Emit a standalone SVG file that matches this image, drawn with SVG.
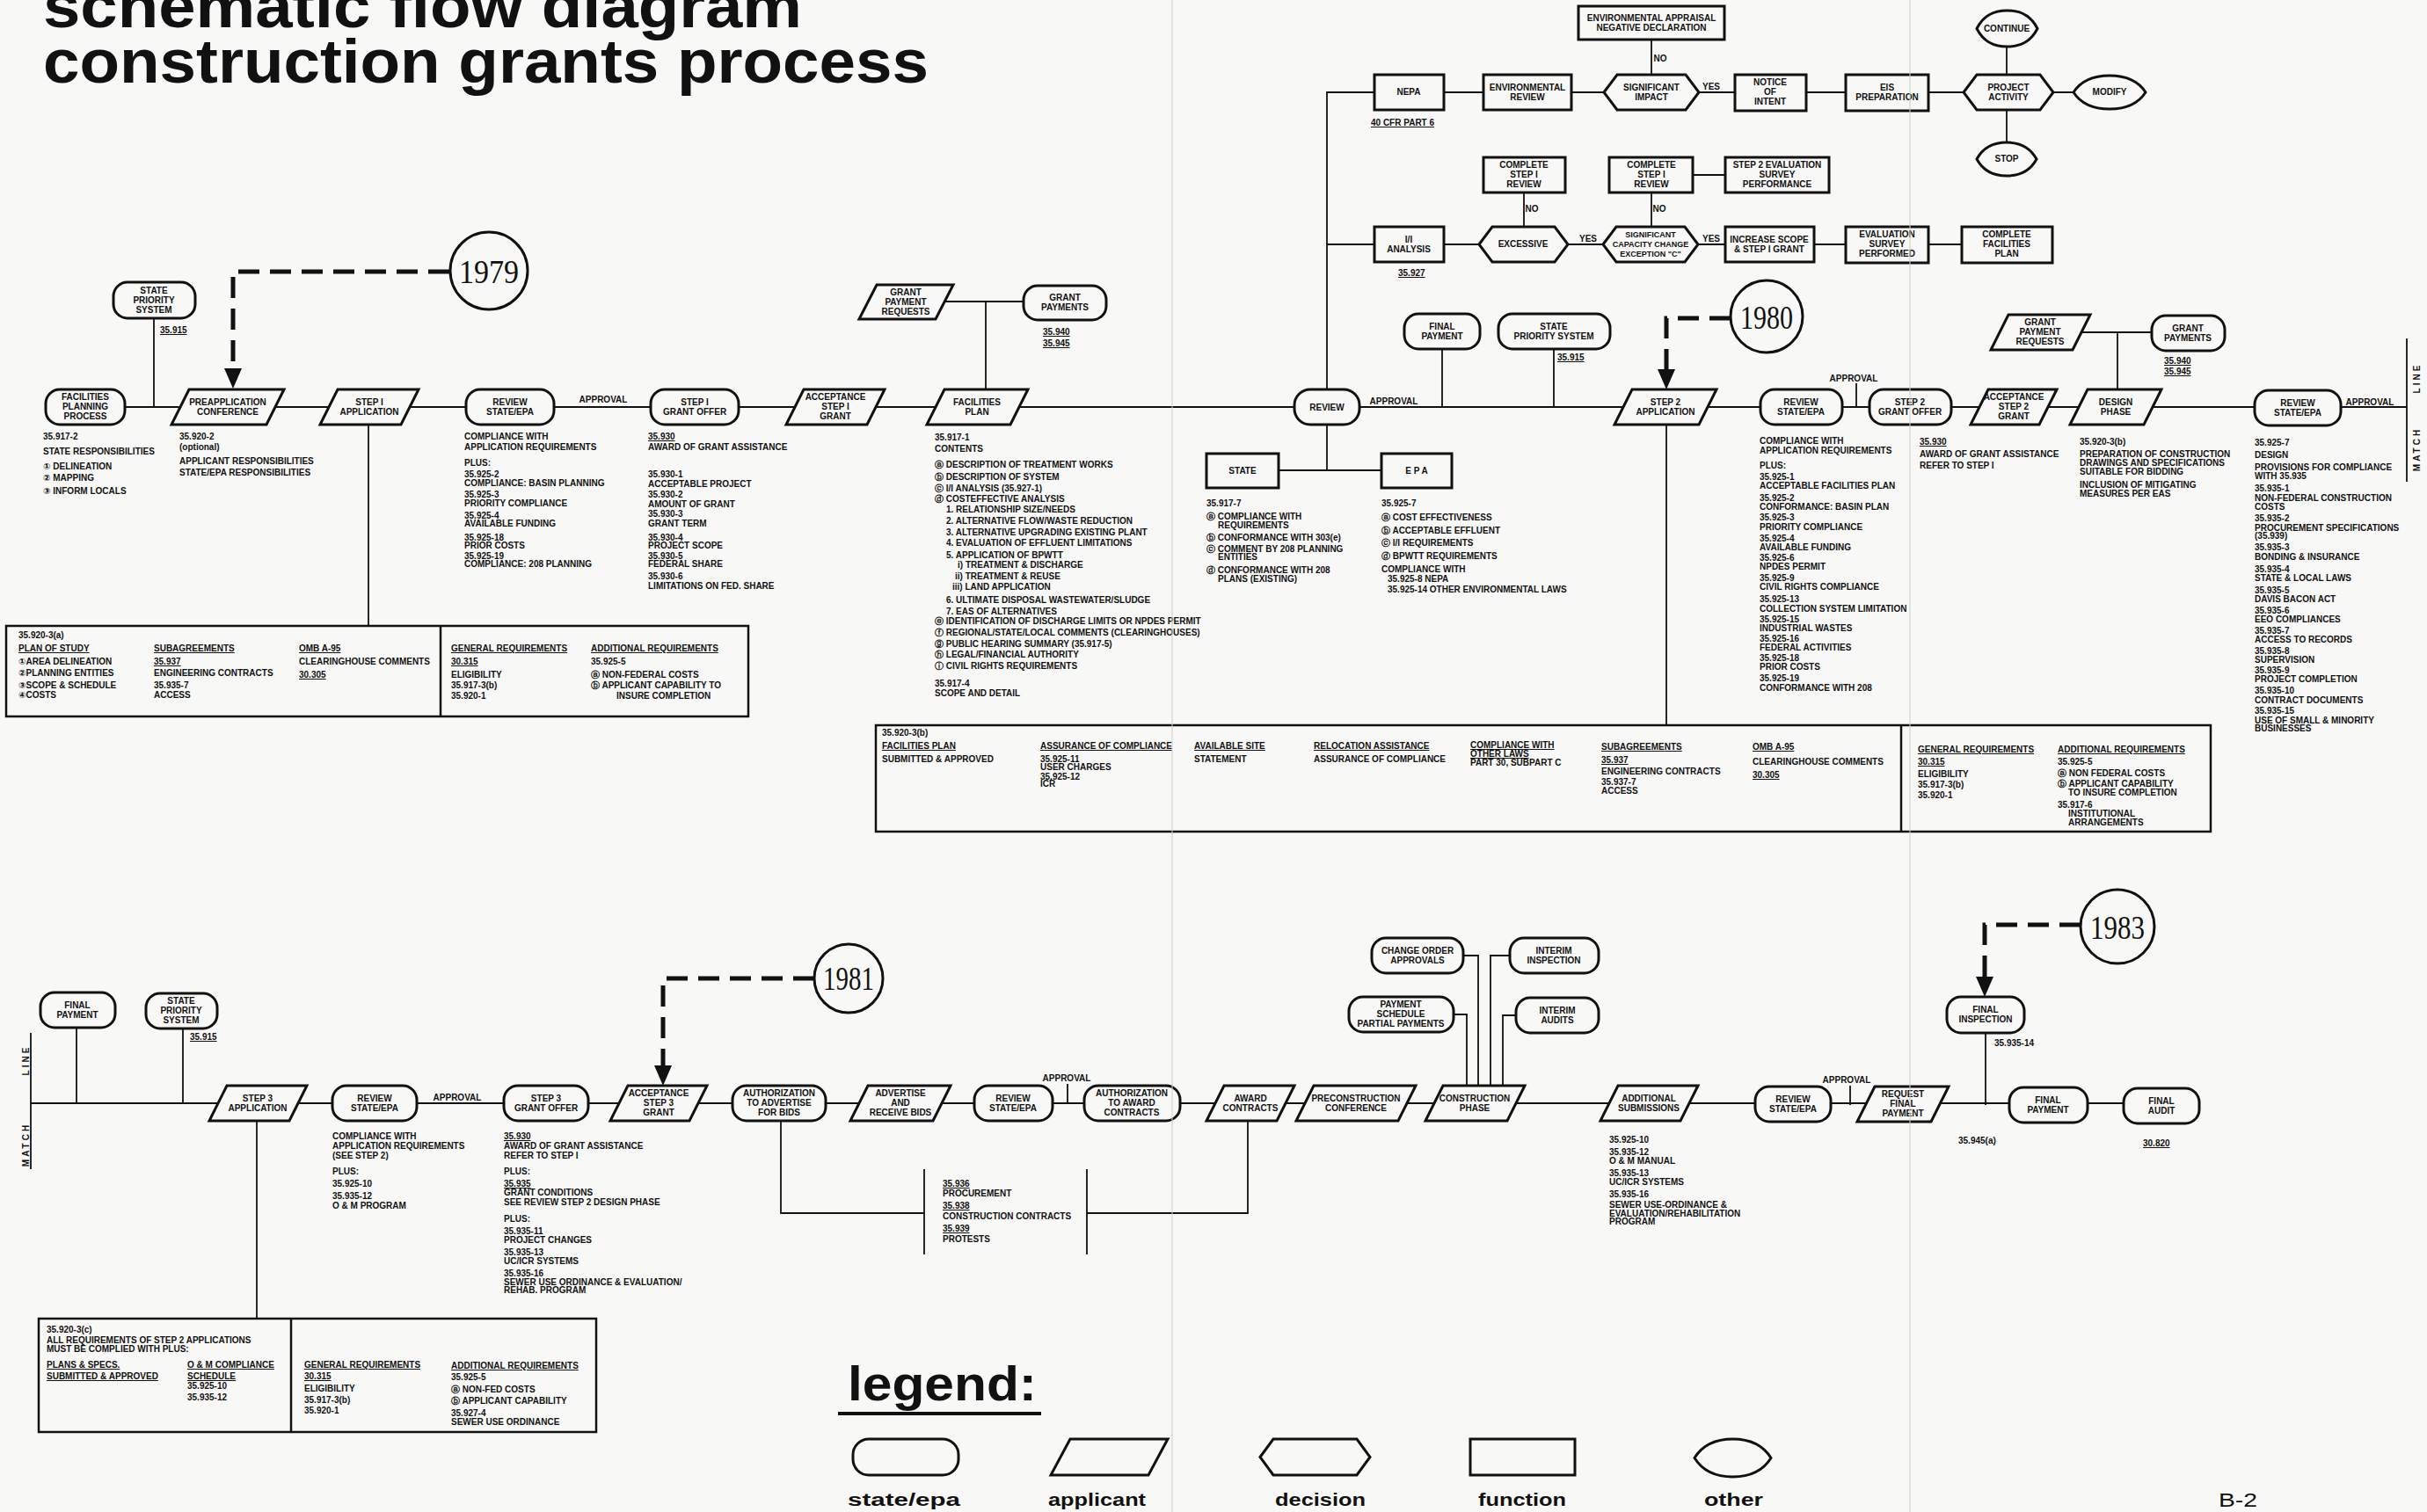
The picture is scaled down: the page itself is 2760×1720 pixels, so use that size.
<svg xmlns="http://www.w3.org/2000/svg" width="2760" height="1720" viewBox="0 0 2760 1720">
<style>
.bg{fill:#f8f8f6}
.n{fill:#f8f8f6;stroke:#111;stroke-width:3}
.c{fill:none;stroke:#111;stroke-width:1.8}
.d{fill:none;stroke:#111;stroke-width:5;stroke-dasharray:24 12}
.t{font-family:"Liberation Sans",Arial,"DejaVu Sans",sans-serif;font-weight:bold;font-size:10px;fill:#111}
.m{text-anchor:middle}
.u{text-decoration:underline}
.yr{font-family:"Liberation Serif","Times New Roman",serif;font-size:38px;fill:#111;text-anchor:middle}
.tab{fill:none;stroke:#111;stroke-width:2.5}
.fold{stroke:#cfcfcb;stroke-width:1.5}
.ttl{font-family:"Liberation Sans",Arial,sans-serif;font-weight:bold;font-size:70px;fill:#111}
.lg{font-family:"Liberation Sans",Arial,sans-serif;font-weight:bold;font-size:20px;fill:#111}
.ml{font-family:"Liberation Sans",Arial,sans-serif;font-weight:bold;font-size:10px;fill:#111;letter-spacing:3px;text-anchor:middle}
</style>
<defs>
<marker id="ah" markerUnits="userSpaceOnUse" markerWidth="24" markerHeight="22" refX="0" refY="11" orient="auto" viewBox="0 0 24 22">
<path d="M0,1 L23,11 L0,21 Z" fill="#111"/>
</marker>
</defs>
<rect class="bg" x="0" y="0" width="2760" height="1720"/>

<g id="title">
<text class="ttl" x="49" y="31" textLength="863" lengthAdjust="spacingAndGlyphs">schematic flow diagram</text>
<text class="ttl" x="49" y="94" textLength="1007" lengthAdjust="spacingAndGlyphs">construction grants process</text>
</g>

<g id="connectors">
<path class="c" d="M97 463 H2737"/>
<path class="c" d="M175 362 V463"/>
<path class="c" d="M419 483 V712"/>
<path class="c" d="M1074 343 H1164 M1121 343 V443"/>
<path class="c" d="M1509 443 V105 H1563 M1509 278 H1563"/>
<path class="c" d="M1509 483 V535 M1454 535 H1571"/>
<path class="c" d="M1640 397 V463 M1767 397 V463"/>
<path class="c" d="M1895 483 V825"/>
<path class="c" d="M2111 436 V463"/>
<path class="c" d="M2367 378 H2447 M2408 378 V443"/>
<path class="c" d="M1642 105 H1687 M1787 105 H1824 M1932 105 H1973 M2054 105 H2099 M2193 105 H2233 M2335 105 H2358"/>
<path class="c" d="M1878 45 V85 M2282 53 V85 M2282 125 V162"/>
<path class="c" d="M1642 278 H1682 M1783 278 H1823 M1931 278 H1962 M2063 278 H2099 M2193 278 H2231"/>
<path class="c" d="M1733 219 V258 M1878 219 V258 M1925 199 H1962"/>
<path class="c" d="M2737 385 V548"/>
<path class="c" d="M35 1175 V1330"/>
<path class="c" d="M35 1255 H2458"/>
<path class="c" d="M87 1169 V1255 M208 1170 V1255"/>
<path class="c" d="M292 1275 V1500"/>
<path class="c" d="M1214 1233 V1255 M2104 1235 V1257"/>
<path class="c" d="M888 1275 V1380 H1051 M1051 1330 V1427 M1236 1330 V1427 M1236 1380 H1419 V1275"/>
<path class="c" d="M1664 1087 H1681 V1237 M1653 1154 H1668 V1237 M1717 1087 H1695 V1237 M1724 1155 H1709 V1237"/>
<path class="c" d="M2258 1175 V1257"/>
<path class="d" d="M511 309 H265 V419" marker-end="url(#ah)"/>
<path class="d" d="M1968 362 H1895 V420" marker-end="url(#ah)"/>
<path class="d" d="M926 1113 H754 V1212" marker-end="url(#ah)"/>
<path class="d" d="M2366 1052 H2257 V1111" marker-end="url(#ah)"/>
<text class="t m" x="686" y="458">APPROVAL</text>
<text class="t m" x="1585" y="460">APPROVAL</text>
<text class="t m" x="2108" y="434">APPROVAL</text>
<text class="t m" x="2695" y="461">APPROVAL</text>
<text class="t m" x="520" y="1252">APPROVAL</text>
<text class="t m" x="1213" y="1230">APPROVAL</text>
<text class="t m" x="2100" y="1232">APPROVAL</text>
<text class="t m" x="1888" y="70">NO</text>
<text class="t m" x="1946" y="102">YES</text>
<text class="t m" x="1742" y="241">NO</text>
<text class="t m" x="1887" y="241">NO</text>
<text class="t m" x="1806" y="275">YES</text>
<text class="t m" x="1946" y="275">YES</text>
<text class="ml" transform="translate(2752 430) rotate(-90)">LINE</text>
<text class="ml" transform="translate(2752 511) rotate(-90)">MATCH</text>
<text class="ml" transform="translate(33 1206) rotate(-90)">LINE</text>
<text class="ml" transform="translate(33 1302) rotate(-90)">MATCH</text>
</g>

<!-- Row 1 nodes -->
<g id="facilities-planning"><rect class="n" x="52" y="443" width="90" height="40" rx="16"/><text class="t m"><tspan x="97" y="455">FACILITIES</tspan><tspan x="97" y="466">PLANNING</tspan><tspan x="97" y="477">PROCESS</tspan></text></g>
<g id="preapplication"><polygon class="n" points="215,443 323,443 303,483 195,483"/><text class="t m"><tspan x="259" y="461">PREAPPLICATION</tspan><tspan x="259" y="472">CONFERENCE</tspan></text></g>
<g id="step1-application"><polygon class="n" points="384,443 476,443 456,483 364,483"/><text class="t m"><tspan x="420" y="461">STEP I</tspan><tspan x="420" y="472">APPLICATION</tspan></text></g>
<g id="review1"><rect class="n" x="530" y="443" width="100" height="40" rx="16"/><text class="t m"><tspan x="580" y="461">REVIEW</tspan><tspan x="580" y="472">STATE/EPA</tspan></text></g>
<g id="step1-grant-offer"><rect class="n" x="740" y="443" width="100" height="40" rx="16"/><text class="t m"><tspan x="790" y="461">STEP I</tspan><tspan x="790" y="472">GRANT OFFER</tspan></text></g>
<g id="acceptance1"><polygon class="n" points="914,443 1006,443 986,483 894,483"/><text class="t m"><tspan x="950" y="455">ACCEPTANCE</tspan><tspan x="950" y="466">STEP I</tspan><tspan x="950" y="477">GRANT</tspan></text></g>
<g id="facilities-plan"><polygon class="n" points="1074,443 1169,443 1149,483 1054,483"/><text class="t m"><tspan x="1111" y="461">FACILITIES</tspan><tspan x="1111" y="472">PLAN</tspan></text></g>
<g id="review-main"><rect class="n" x="1472" y="443" width="74" height="40" rx="18"/><text class="t m" x="1509" y="467">REVIEW</text></g>
<g id="step2-application"><polygon class="n" points="1856,443 1952,443 1932,483 1836,483"/><text class="t m"><tspan x="1894" y="461">STEP 2</tspan><tspan x="1894" y="472">APPLICATION</tspan></text></g>
<g id="review2"><rect class="n" x="2002" y="443" width="93" height="40" rx="16"/><text class="t m"><tspan x="2048" y="461">REVIEW</tspan><tspan x="2048" y="472">STATE/EPA</tspan></text></g>
<g id="step2-grant-offer"><rect class="n" x="2126" y="443" width="93" height="40" rx="16"/><text class="t m"><tspan x="2172" y="461">STEP 2</tspan><tspan x="2172" y="472">GRANT OFFER</tspan></text></g>
<g id="acceptance2"><polygon class="n" points="2261,443 2339,443 2319,483 2241,483"/><text class="t m"><tspan x="2290" y="455">ACCEPTANCE</tspan><tspan x="2290" y="466">STEP 2</tspan><tspan x="2290" y="477">GRANT</tspan></text></g>
<g id="design-phase"><polygon class="n" points="2374,443 2458,443 2438,483 2354,483"/><text class="t m"><tspan x="2406" y="461">DESIGN</tspan><tspan x="2406" y="472">PHASE</tspan></text></g>
<g id="review3"><rect class="n" x="2564" y="444" width="98" height="40" rx="16"/><text class="t m"><tspan x="2613" y="462">REVIEW</tspan><tspan x="2613" y="473">STATE/EPA</tspan></text></g>

<g id="state-priority1"><rect class="n" x="129" y="321" width="93" height="41" rx="16"/><text class="t m"><tspan x="175" y="334">STATE</tspan><tspan x="175" y="345">PRIORITY</tspan><tspan x="175" y="356">SYSTEM</tspan></text></g>
<g id="y1979"><circle class="n" cx="556" cy="308" r="44"/><text class="yr" x="556" y="322" textLength="68" lengthAdjust="spacingAndGlyphs">1979</text></g>
<g id="grant-payment-requests1"><polygon class="n" points="997,324 1084,324 1064,363 977,363"/><text class="t m"><tspan x="1030" y="336">GRANT</tspan><tspan x="1030" y="347">PAYMENT</tspan><tspan x="1030" y="358">REQUESTS</tspan></text></g>
<g id="grant-payments1"><rect class="n" x="1164" y="325" width="94" height="39" rx="16"/><text class="t m"><tspan x="1211" y="342">GRANT</tspan><tspan x="1211" y="353">PAYMENTS</tspan></text></g>
<g id="final-payment1"><rect class="n" x="1597" y="357" width="86" height="40" rx="16"/><text class="t m"><tspan x="1640" y="375">FINAL</tspan><tspan x="1640" y="386">PAYMENT</tspan></text></g>
<g id="state-priority2"><rect class="n" x="1704" y="357" width="127" height="40" rx="16"/><text class="t m"><tspan x="1767" y="375">STATE</tspan><tspan x="1767" y="386">PRIORITY SYSTEM</tspan></text></g>
<g id="y1980"><circle class="n" cx="2009" cy="360" r="41"/><text class="yr" x="2009" y="374" textLength="60" lengthAdjust="spacingAndGlyphs">1980</text></g>
<g id="grant-payment-requests2"><polygon class="n" points="2284,358 2377,358 2357,398 2264,398"/><text class="t m"><tspan x="2320" y="370">GRANT</tspan><tspan x="2320" y="381">PAYMENT</tspan><tspan x="2320" y="392">REQUESTS</tspan></text></g>
<g id="grant-payments2"><rect class="n" x="2447" y="359" width="83" height="40" rx="16"/><text class="t m"><tspan x="2488" y="377">GRANT</tspan><tspan x="2488" y="388">PAYMENTS</tspan></text></g>
<g id="state"><rect class="n" x="1372" y="516" width="82" height="39"/><text class="t m" x="1413" y="539">STATE</text></g>
<g id="epa"><rect class="n" x="1571" y="516" width="80" height="39"/><text class="t m" x="1611" y="539">E P A</text></g>

<!-- Top environmental section -->
<g id="nepa"><rect class="n" x="1563" y="85" width="79" height="40"/><text class="t m" x="1602" y="108">NEPA</text></g>
<g id="env-review"><rect class="n" x="1687" y="85" width="100" height="40"/><text class="t m"><tspan x="1737" y="103">ENVIRONMENTAL</tspan><tspan x="1737" y="114">REVIEW</tspan></text></g>
<g id="sig-impact"><polygon class="n" points="1824,105 1839,85 1917,85 1932,105 1917,125 1839,125"/><text class="t m"><tspan x="1878" y="103">SIGNIFICANT</tspan><tspan x="1878" y="114">IMPACT</tspan></text></g>
<g id="env-appraisal"><rect class="n" x="1795" y="7" width="166" height="38"/><text class="t m"><tspan x="1878" y="24">ENVIRONMENTAL APPRAISAL</tspan><tspan x="1878" y="35">NEGATIVE DECLARATION</tspan></text></g>
<g id="notice-of-intent"><rect class="n" x="1973" y="85" width="81" height="41"/><text class="t m"><tspan x="2013" y="97">NOTICE</tspan><tspan x="2013" y="108">OF</tspan><tspan x="2013" y="119">INTENT</tspan></text></g>
<g id="eis-preparation"><rect class="n" x="2099" y="85" width="94" height="41"/><text class="t m"><tspan x="2146" y="103">EIS</tspan><tspan x="2146" y="114">PREPARATION</tspan></text></g>
<g id="project-activity"><polygon class="n" points="2233,105 2248,85 2320,85 2335,105 2320,125 2248,125"/><text class="t m"><tspan x="2284" y="103">PROJECT</tspan><tspan x="2284" y="114">ACTIVITY</tspan></text></g>
<g id="continue"><path class="n" d="M2248,32.5 C2256.3,16.1 2268.7,12 2282.5,12 C2296.3,12 2308.7,16.1 2317,32.5 C2308.7,48.9 2296.3,53 2282.5,53 C2268.7,53 2256.3,48.9 2248,32.5Z"/><text class="t m" x="2282" y="36">CONTINUE</text></g>
<g id="stop"><path class="n" d="M2248,181 C2256.2,165.8 2268.4,162 2282,162 C2295.6,162 2307.8,165.8 2316,181 C2307.8,196.2 2295.6,200 2282,200 C2268.4,200 2256.2,196.2 2248,181Z"/><text class="t m" x="2282" y="184">STOP</text></g>
<g id="modify"><path class="n" d="M2358,105 C2367.8,89.8 2382.6,86 2399,86 C2415.4,86 2430.2,89.8 2440,105 C2430.2,120.2 2415.4,124 2399,124 C2382.6,124 2367.8,120.2 2358,105Z"/><text class="t m" x="2399" y="108">MODIFY</text></g>
<g id="ii-analysis"><rect class="n" x="1563" y="258" width="79" height="40"/><text class="t m"><tspan x="1602" y="276">I/I</tspan><tspan x="1602" y="287">ANALYSIS</tspan></text></g>
<g id="excessive"><polygon class="n" points="1682,278 1697,258 1768,258 1783,278 1768,298 1697,298"/><text class="t m" x="1732" y="281">EXCESSIVE</text></g>
<g id="complete-step1-a"><rect class="n" x="1687" y="179" width="93" height="40"/><text class="t m"><tspan x="1733" y="191">COMPLETE</tspan><tspan x="1733" y="202">STEP I</tspan><tspan x="1733" y="213">REVIEW</tspan></text></g>
<g id="sig-capacity"><polygon class="n" points="1823,278 1838,258 1916,258 1931,278 1916,298 1838,298"/><text class="t m" style="font-size:9px"><tspan x="1877" y="270">SIGNIFICANT</tspan><tspan x="1877" y="281">CAPACITY CHANGE</tspan><tspan x="1877" y="292">EXCEPTION "C"</tspan></text></g>
<g id="complete-step1-b"><rect class="n" x="1830" y="179" width="95" height="40"/><text class="t m"><tspan x="1878" y="191">COMPLETE</tspan><tspan x="1878" y="202">STEP I</tspan><tspan x="1878" y="213">REVIEW</tspan></text></g>
<g id="step2-eval-survey"><rect class="n" x="1962" y="179" width="118" height="40"/><text class="t m"><tspan x="2021" y="191">STEP 2 EVALUATION</tspan><tspan x="2021" y="202">SURVEY</tspan><tspan x="2021" y="213">PERFORMANCE</tspan></text></g>
<g id="increase-scope"><rect class="n" x="1962" y="258" width="101" height="40"/><text class="t m"><tspan x="2012" y="276">INCREASE SCOPE</tspan><tspan x="2012" y="287">&amp; STEP I GRANT</tspan></text></g>
<g id="eval-survey-performed"><rect class="n" x="2099" y="258" width="94" height="41"/><text class="t m"><tspan x="2146" y="270">EVALUATION</tspan><tspan x="2146" y="281">SURVEY</tspan><tspan x="2146" y="292">PERFORMED</tspan></text></g>
<g id="complete-facilities-plan"><rect class="n" x="2231" y="258" width="103" height="41"/><text class="t m"><tspan x="2282" y="270">COMPLETE</tspan><tspan x="2282" y="281">FACILITIES</tspan><tspan x="2282" y="292">PLAN</tspan></text></g>

<!-- Row 3 nodes -->
<g id="step3-application"><polygon class="n" points="258,1235 349,1235 329,1275 238,1275"/><text class="t m"><tspan x="293" y="1253">STEP 3</tspan><tspan x="293" y="1264">APPLICATION</tspan></text></g>
<g id="review4"><rect class="n" x="378" y="1235" width="96" height="40" rx="16"/><text class="t m"><tspan x="426" y="1253">REVIEW</tspan><tspan x="426" y="1264">STATE/EPA</tspan></text></g>
<g id="step3-grant-offer"><rect class="n" x="573" y="1235" width="96" height="40" rx="16"/><text class="t m"><tspan x="621" y="1253">STEP 3</tspan><tspan x="621" y="1264">GRANT OFFER</tspan></text></g>
<g id="acceptance3"><polygon class="n" points="714,1235 804,1235 784,1275 694,1275"/><text class="t m"><tspan x="749" y="1247">ACCEPTANCE</tspan><tspan x="749" y="1258">STEP 3</tspan><tspan x="749" y="1269">GRANT</tspan></text></g>
<g id="auth-advertise"><rect class="n" x="833" y="1235" width="106" height="40" rx="16"/><text class="t m"><tspan x="886" y="1247">AUTHORIZATION</tspan><tspan x="886" y="1258">TO ADVERTISE</tspan><tspan x="886" y="1269">FOR BIDS</tspan></text></g>
<g id="advertise-bids"><polygon class="n" points="987,1235 1081,1235 1061,1275 967,1275"/><text class="t m"><tspan x="1024" y="1247">ADVERTISE</tspan><tspan x="1024" y="1258">AND</tspan><tspan x="1024" y="1269">RECEIVE BIDS</tspan></text></g>
<g id="review5"><rect class="n" x="1108" y="1235" width="89" height="40" rx="16"/><text class="t m"><tspan x="1152" y="1253">REVIEW</tspan><tspan x="1152" y="1264">STATE/EPA</tspan></text></g>
<g id="auth-award"><rect class="n" x="1233" y="1235" width="109" height="40" rx="16"/><text class="t m"><tspan x="1287" y="1247">AUTHORIZATION</tspan><tspan x="1287" y="1258">TO AWARD</tspan><tspan x="1287" y="1269">CONTRACTS</tspan></text></g>
<g id="award-contracts"><polygon class="n" points="1392,1235 1472,1235 1452,1275 1372,1275"/><text class="t m"><tspan x="1422" y="1253">AWARD</tspan><tspan x="1422" y="1264">CONTRACTS</tspan></text></g>
<g id="preconstruction"><polygon class="n" points="1494,1235 1610,1235 1590,1275 1474,1275"/><text class="t m"><tspan x="1542" y="1253">PRECONSTRUCTION</tspan><tspan x="1542" y="1264">CONFERENCE</tspan></text></g>
<g id="construction-phase"><polygon class="n" points="1641,1235 1734,1235 1714,1275 1621,1275"/><text class="t m"><tspan x="1677" y="1253">CONSTRUCTION</tspan><tspan x="1677" y="1264">PHASE</tspan></text></g>
<g id="additional-submissions"><polygon class="n" points="1840,1235 1931,1235 1911,1275 1820,1275"/><text class="t m"><tspan x="1875" y="1253">ADDITIONAL</tspan><tspan x="1875" y="1264">SUBMISSIONS</tspan></text></g>
<g id="review6"><rect class="n" x="1996" y="1236" width="86" height="40" rx="16"/><text class="t m"><tspan x="2039" y="1254">REVIEW</tspan><tspan x="2039" y="1265">STATE/EPA</tspan></text></g>
<g id="request-final-payment"><polygon class="n" points="2132,1236 2216,1236 2196,1276 2112,1276"/><text class="t m"><tspan x="2164" y="1248">REQUEST</tspan><tspan x="2164" y="1259">FINAL</tspan><tspan x="2164" y="1270">PAYMENT</tspan></text></g>
<g id="final-payment3"><rect class="n" x="2285" y="1237" width="89" height="40" rx="16"/><text class="t m"><tspan x="2329" y="1255">FINAL</tspan><tspan x="2329" y="1266">PAYMENT</tspan></text></g>
<g id="final-audit"><rect class="n" x="2415" y="1238" width="86" height="40" rx="16"/><text class="t m"><tspan x="2458" y="1256">FINAL</tspan><tspan x="2458" y="1267">AUDIT</tspan></text></g>
<g id="final-payment2"><rect class="n" x="46" y="1129" width="85" height="40" rx="16"/><text class="t m"><tspan x="88" y="1147">FINAL</tspan><tspan x="88" y="1158">PAYMENT</tspan></text></g>
<g id="state-priority3"><rect class="n" x="166" y="1130" width="81" height="40" rx="16"/><text class="t m"><tspan x="206" y="1142">STATE</tspan><tspan x="206" y="1153">PRIORITY</tspan><tspan x="206" y="1164">SYSTEM</tspan></text></g>
<g id="y1981"><circle class="n" cx="965" cy="1113" r="39"/><text class="yr" x="965" y="1126" textLength="58" lengthAdjust="spacingAndGlyphs">1981</text></g>
<g id="change-order"><rect class="n" x="1560" y="1067" width="104" height="40" rx="16"/><text class="t m"><tspan x="1612" y="1085">CHANGE ORDER</tspan><tspan x="1612" y="1096">APPROVALS</tspan></text></g>
<g id="interim-inspection"><rect class="n" x="1717" y="1067" width="101" height="40" rx="16"/><text class="t m"><tspan x="1767" y="1085">INTERIM</tspan><tspan x="1767" y="1096">INSPECTION</tspan></text></g>
<g id="payment-schedule"><rect class="n" x="1534" y="1134" width="119" height="40" rx="16"/><text class="t m"><tspan x="1593" y="1146">PAYMENT</tspan><tspan x="1593" y="1157">SCHEDULE</tspan><tspan x="1593" y="1168">PARTIAL PAYMENTS</tspan></text></g>
<g id="interim-audits"><rect class="n" x="1724" y="1135" width="94" height="40" rx="16"/><text class="t m"><tspan x="1771" y="1153">INTERIM</tspan><tspan x="1771" y="1164">AUDITS</tspan></text></g>
<g id="final-inspection"><rect class="n" x="2214" y="1134" width="88" height="41" rx="16"/><text class="t m"><tspan x="2258" y="1152">FINAL</tspan><tspan x="2258" y="1163">INSPECTION</tspan></text></g>
<g id="y1983"><circle class="n" cx="2408" cy="1054" r="42"/><text class="yr" x="2408" y="1068" textLength="62" lengthAdjust="spacingAndGlyphs">1983</text></g>

<!-- Notes -->
<g id="notes" class="t">
<text x="182" y="379" class="u">35.915</text>
<text x="49" y="500">35.917-2</text>
<text x="49" y="517">STATE RESPONSIBILITIES</text>
<text x="49" y="534">① DELINEATION</text>
<text x="49" y="547">② MAPPING</text>
<text x="49" y="562">③ INFORM LOCALS</text>
<text x="204" y="500">35.920-2</text>
<text x="204" y="512">(optional)</text>
<text x="204" y="528">APPLICANT RESPONSIBILITIES</text>
<text x="204" y="541">STATE/EPA RESPONSIBILITIES</text>
<text x="528" y="500">COMPLIANCE WITH</text>
<text x="528" y="512">APPLICATION REQUIREMENTS</text>
<text x="528" y="530">PLUS:</text>
<text x="528" y="543">35.925-2</text>
<text x="528" y="553">COMPLIANCE: BASIN PLANNING</text>
<text x="528" y="566">35.925-3</text>
<text x="528" y="576">PRIORITY COMPLIANCE</text>
<text x="528" y="590">35.925-4</text>
<text x="528" y="599">AVAILABLE FUNDING</text>
<text x="528" y="615">35.925-18</text>
<text x="528" y="624">PRIOR COSTS</text>
<text x="528" y="636">35.925-19</text>
<text x="528" y="645">COMPLIANCE: 208 PLANNING</text>
<text x="737" y="500" class="u">35.930</text>
<text x="737" y="512">AWARD OF GRANT ASSISTANCE</text>
<text x="737" y="543">35.930-1</text>
<text x="737" y="554">ACCEPTABLE PROJECT</text>
<text x="737" y="566">35.930-2</text>
<text x="737" y="577">AMOUNT OF GRANT</text>
<text x="737" y="588">35.930-3</text>
<text x="737" y="599">GRANT TERM</text>
<text x="737" y="615">35.930-4</text>
<text x="737" y="624">PROJECT SCOPE</text>
<text x="737" y="636">35.930-5</text>
<text x="737" y="645">FEDERAL SHARE</text>
<text x="737" y="659">35.930-6</text>
<text x="737" y="670">LIMITATIONS ON FED. SHARE</text>
<text x="1186" y="381" class="u">35.940</text>
<text x="1186" y="394" class="u">35.945</text>
<text x="1063" y="501">35.917-1</text>
<text x="1063" y="514">CONTENTS</text>
<text x="1063" y="532">ⓐ DESCRIPTION OF TREATMENT WORKS</text>
<text x="1063" y="546">ⓑ DESCRIPTION OF SYSTEM</text>
<text x="1063" y="559">ⓒ I/I ANALYSIS (35.927-1)</text>
<text x="1063" y="571">ⓓ COSTEFFECTIVE ANALYSIS</text>
<text x="1076" y="583">1. RELATIONSHIP SIZE/NEEDS</text>
<text x="1076" y="596">2. ALTERNATIVE FLOW/WASTE REDUCTION</text>
<text x="1076" y="609">3. ALTERNATIVE UPGRADING EXISTING PLANT</text>
<text x="1076" y="621">4. EVALUATION OF EFFLUENT LIMITATIONS</text>
<text x="1076" y="635">5. APPLICATION OF BPWTT</text>
<text x="1089" y="646">i) TREATMENT &amp; DISCHARGE</text>
<text x="1086" y="659">ii) TREATMENT &amp; REUSE</text>
<text x="1083" y="671">iii) LAND APPLICATION</text>
<text x="1076" y="686">6. ULTIMATE DISPOSAL WASTEWATER/SLUDGE</text>
<text x="1076" y="699">7. EAS OF ALTERNATIVES</text>
<text x="1063" y="710">ⓔ IDENTIFICATION OF DISCHARGE LIMITS OR NPDES PERMIT</text>
<text x="1063" y="723">ⓕ REGIONAL/STATE/LOCAL COMMENTS (CLEARINGHOUSES)</text>
<text x="1063" y="736">ⓖ PUBLIC HEARING SUMMARY (35.917-5)</text>
<text x="1063" y="748">ⓗ LEGAL/FINANCIAL AUTHORITY</text>
<text x="1063" y="761">ⓘ CIVIL RIGHTS REQUIREMENTS</text>
<text x="1063" y="781">35.917-4</text>
<text x="1063" y="792">SCOPE AND DETAIL</text>
<text x="1372" y="576">35.917-7</text>
<text x="1372" y="591">ⓐ COMPLIANCE WITH</text>
<text x="1385" y="601">REQUIREMENTS</text>
<text x="1372" y="615">ⓑ CONFORMANCE WITH 303(e)</text>
<text x="1372" y="628">ⓒ COMMENT BY 208 PLANNING</text>
<text x="1385" y="637">ENTITIES</text>
<text x="1372" y="652">ⓓ CONFORMANCE WITH 208</text>
<text x="1385" y="662">PLANS (EXISTING)</text>
<text x="1571" y="576">35.925-7</text>
<text x="1571" y="592">ⓐ COST EFFECTIVENESS</text>
<text x="1571" y="607">ⓑ ACCEPTABLE EFFLUENT</text>
<text x="1571" y="621">ⓒ I/I REQUIREMENTS</text>
<text x="1571" y="636">ⓓ BPWTT REQUIREMENTS</text>
<text x="1571" y="651">COMPLIANCE WITH</text>
<text x="1578" y="662">35.925-8 NEPA</text>
<text x="1578" y="674">35.925-14 OTHER ENVIRONMENTAL LAWS</text>
<text x="1559" y="143" class="u">40 CFR PART 6</text>
<text x="1590" y="314" class="u">35.927</text>
<text x="1771" y="410" class="u">35.915</text>
<text x="2461" y="414" class="u">35.940</text>
<text x="2461" y="426" class="u">35.945</text>
<text x="2001" y="505">COMPLIANCE WITH</text>
<text x="2001" y="516">APPLICATION REQUIREMENTS</text>
<text x="2001" y="533">PLUS:</text>
<text x="2001" y="546">35.925-1</text>
<text x="2001" y="556">ACCEPTABLE FACILITIES PLAN</text>
<text x="2001" y="570">35.925-2</text>
<text x="2001" y="580">CONFORMANCE: BASIN PLAN</text>
<text x="2001" y="592">35.925-3</text>
<text x="2001" y="603">PRIORITY COMPLIANCE</text>
<text x="2001" y="616">35.925-4</text>
<text x="2001" y="626">AVAILABLE FUNDING</text>
<text x="2001" y="638">35.925-6</text>
<text x="2001" y="648">NPDES PERMIT</text>
<text x="2001" y="661">35.925-9</text>
<text x="2001" y="671">CIVIL RIGHTS COMPLIANCE</text>
<text x="2001" y="685">35.925-13</text>
<text x="2001" y="696">COLLECTION SYSTEM LIMITATION</text>
<text x="2001" y="708">35.925-15</text>
<text x="2001" y="718">INDUSTRIAL WASTES</text>
<text x="2001" y="730">35.925-16</text>
<text x="2001" y="740">FEDERAL ACTIVITIES</text>
<text x="2001" y="752">35.925-18</text>
<text x="2001" y="762">PRIOR COSTS</text>
<text x="2001" y="775">35.925-19</text>
<text x="2001" y="786">CONFORMANCE WITH 208</text>
<text x="2183" y="506" class="u">35.930</text>
<text x="2183" y="520">AWARD OF GRANT ASSISTANCE</text>
<text x="2183" y="533">REFER TO STEP I</text>
<text x="2365" y="506">35.920-3(b)</text>
<text x="2365" y="520">PREPARATION OF CONSTRUCTION</text>
<text x="2365" y="530">DRAWINGS AND SPECIFICATIONS</text>
<text x="2365" y="540">SUITABLE FOR BIDDING</text>
<text x="2365" y="555">INCLUSION OF MITIGATING</text>
<text x="2365" y="565">MEASURES PER EAS</text>
<text x="2564" y="507">35.925-7</text>
<text x="2564" y="521">DESIGN</text>
<text x="2564" y="535">PROVISIONS FOR COMPLIANCE</text>
<text x="2564" y="545">WITH 35.935</text>
<text x="2564" y="559">35.935-1</text>
<text x="2564" y="570">NON-FEDERAL CONSTRUCTION</text>
<text x="2564" y="580">COSTS</text>
<text x="2564" y="593">35.935-2</text>
<text x="2564" y="604">PROCUREMENT SPECIFICATIONS</text>
<text x="2564" y="613">(35.939)</text>
<text x="2564" y="626">35.935-3</text>
<text x="2564" y="637">BONDING &amp; INSURANCE</text>
<text x="2564" y="651">35.935-4</text>
<text x="2564" y="661">STATE &amp; LOCAL LAWS</text>
<text x="2564" y="675">35.935-5</text>
<text x="2564" y="685">DAVIS BACON ACT</text>
<text x="2564" y="698">35.935-6</text>
<text x="2564" y="708">EEO COMPLIANCES</text>
<text x="2564" y="721">35.935-7</text>
<text x="2564" y="731">ACCESS TO RECORDS</text>
<text x="2564" y="744">35.935-8</text>
<text x="2564" y="754">SUPERVISION</text>
<text x="2564" y="766">35.935-9</text>
<text x="2564" y="776">PROJECT COMPLETION</text>
<text x="2564" y="789">35.935-10</text>
<text x="2564" y="800">CONTRACT DOCUMENTS</text>
<text x="2564" y="812">35.935-15</text>
<text x="2564" y="823">USE OF SMALL &amp; MINORITY</text>
<text x="2564" y="832">BUSINESSES</text>
<text x="216" y="1183" class="u">35.915</text>
<text x="378" y="1296">COMPLIANCE WITH</text>
<text x="378" y="1307">APPLICATION REQUIREMENTS</text>
<text x="378" y="1318">(SEE STEP 2)</text>
<text x="378" y="1336">PLUS:</text>
<text x="378" y="1350">35.925-10</text>
<text x="378" y="1364">35.935-12</text>
<text x="378" y="1375">O &amp; M PROGRAM</text>
<text x="573" y="1296" class="u">35.930</text>
<text x="573" y="1307">AWARD OF GRANT ASSISTANCE</text>
<text x="573" y="1318">REFER TO STEP I</text>
<text x="573" y="1336">PLUS:</text>
<text x="573" y="1350" class="u">35.935</text>
<text x="573" y="1360">GRANT CONDITIONS</text>
<text x="573" y="1371">SEE REVIEW STEP 2 DESIGN PHASE</text>
<text x="573" y="1390">PLUS:</text>
<text x="573" y="1404">35.935-11</text>
<text x="573" y="1414">PROJECT CHANGES</text>
<text x="573" y="1428">35.935-13</text>
<text x="573" y="1438">UC/ICR SYSTEMS</text>
<text x="573" y="1452">35.935-16</text>
<text x="573" y="1462">SEWER USE ORDINANCE &amp; EVALUATION/</text>
<text x="573" y="1471">REHAB. PROGRAM</text>
<text x="1072" y="1350" class="u">35.936</text>
<text x="1072" y="1361">PROCUREMENT</text>
<text x="1072" y="1375" class="u">35.938</text>
<text x="1072" y="1387">CONSTRUCTION CONTRACTS</text>
<text x="1072" y="1401" class="u">35.939</text>
<text x="1072" y="1413">PROTESTS</text>
<text x="1830" y="1300">35.925-10</text>
<text x="1830" y="1314">35.935-12</text>
<text x="1830" y="1324">O &amp; M MANUAL</text>
<text x="1830" y="1338">35.935-13</text>
<text x="1830" y="1348">UC/ICR SYSTEMS</text>
<text x="1830" y="1362">35.935-16</text>
<text x="1830" y="1374">SEWER USE-ORDINANCE &amp;</text>
<text x="1830" y="1384">EVALUATION/REHABILITATION</text>
<text x="1830" y="1393">PROGRAM</text>
<text x="2268" y="1190">35.935-14</text>
<text x="2227" y="1301">35.945(a)</text>
<text x="2437" y="1304" class="u">30.820</text>
</g>

<!-- Tables -->
<g id="table-step1" class="t">
<rect class="tab" x="7" y="712" width="844" height="103"/>
<line class="tab" x1="501" y1="712" x2="501" y2="815"/>
<text x="21" y="726">35.920-3(a)</text>
<text x="21" y="741" class="u">PLAN OF STUDY</text>
<text x="21" y="756">①AREA DELINEATION</text>
<text x="21" y="769">②PLANNING ENTITIES</text>
<text x="21" y="783">③SCOPE &amp; SCHEDULE</text>
<text x="21" y="794">④COSTS</text>
<text x="175" y="741" class="u">SUBAGREEMENTS</text>
<text x="175" y="756" class="u">35.937</text>
<text x="175" y="769">ENGINEERING CONTRACTS</text>
<text x="175" y="783">35.935-7</text>
<text x="175" y="794">ACCESS</text>
<text x="340" y="741" class="u">OMB A-95</text>
<text x="340" y="756">CLEARINGHOUSE COMMENTS</text>
<text x="340" y="771" class="u">30.305</text>
<text x="513" y="741" class="u">GENERAL REQUIREMENTS</text>
<text x="513" y="756" class="u">30.315</text>
<text x="513" y="771">ELIGIBILITY</text>
<text x="513" y="783">35.917-3(b)</text>
<text x="513" y="795">35.920-1</text>
<text x="672" y="741" class="u">ADDITIONAL REQUIREMENTS</text>
<text x="672" y="756">35.925-5</text>
<text x="672" y="771">ⓐ NON-FEDERAL COSTS</text>
<text x="672" y="783">ⓑ APPLICANT CAPABILITY TO</text>
<text x="701" y="795">INSURE COMPLETION</text>
</g>

<g id="table-step2" class="t">
<rect class="tab" x="996" y="825" width="1518" height="121"/>
<line class="tab" x1="2162" y1="825" x2="2162" y2="946"/>
<text x="1003" y="837">35.920-3(b)</text>
<text x="1003" y="852" class="u">FACILITIES PLAN</text>
<text x="1003" y="867">SUBMITTED &amp; APPROVED</text>
<text x="1183" y="852" class="u">ASSURANCE OF COMPLIANCE</text>
<text x="1183" y="867">35.925-11</text>
<text x="1183" y="876">USER CHARGES</text>
<text x="1183" y="887">35.925-12</text>
<text x="1183" y="895">ICR</text>
<text x="1358" y="852" class="u">AVAILABLE SITE</text>
<text x="1358" y="867">STATEMENT</text>
<text x="1494" y="852" class="u">RELOCATION ASSISTANCE</text>
<text x="1494" y="867">ASSURANCE OF COMPLIANCE</text>
<text x="1672" y="851" class="u">COMPLIANCE WITH</text>
<text x="1672" y="861" class="u">OTHER LAWS</text>
<text x="1672" y="871">PART 30, SUBPART C</text>
<text x="1821" y="853" class="u">SUBAGREEMENTS</text>
<text x="1821" y="868" class="u">35.937</text>
<text x="1821" y="881">ENGINEERING CONTRACTS</text>
<text x="1821" y="893">35.937-7</text>
<text x="1821" y="903">ACCESS</text>
<text x="1993" y="853" class="u">OMB A-95</text>
<text x="1993" y="870">CLEARINGHOUSE COMMENTS</text>
<text x="1993" y="885" class="u">30.305</text>
<text x="2181" y="856" class="u">GENERAL REQUIREMENTS</text>
<text x="2181" y="870" class="u">30.315</text>
<text x="2181" y="884">ELIGIBILITY</text>
<text x="2181" y="896">35.917-3(b)</text>
<text x="2181" y="908">35.920-1</text>
<text x="2340" y="856" class="u">ADDITIONAL REQUIREMENTS</text>
<text x="2340" y="870">35.925-5</text>
<text x="2340" y="883">ⓐ NON FEDERAL COSTS</text>
<text x="2340" y="895">ⓑ APPLICANT CAPABILITY</text>
<text x="2352" y="905">TO INSURE COMPLETION</text>
<text x="2340" y="919">35.917-6</text>
<text x="2352" y="929">INSTITUTIONAL</text>
<text x="2352" y="939">ARRANGEMENTS</text>
</g>

<g id="table-step3" class="t">
<rect class="tab" x="44" y="1500" width="634" height="129"/>
<line class="tab" x1="331" y1="1500" x2="331" y2="1629"/>
<text x="53" y="1516">35.920-3(c)</text>
<text x="53" y="1528">ALL REQUIREMENTS OF STEP 2 APPLICATIONS</text>
<text x="53" y="1538">MUST BE COMPLIED WITH PLUS:</text>
<text x="53" y="1556" class="u">PLANS &amp; SPECS.</text>
<text x="53" y="1569" class="u">SUBMITTED &amp; APPROVED</text>
<text x="213" y="1556" class="u">O &amp; M COMPLIANCE</text>
<text x="213" y="1569" class="u">SCHEDULE</text>
<text x="213" y="1580">35.925-10</text>
<text x="213" y="1593">35.935-12</text>
<text x="346" y="1556" class="u">GENERAL REQUIREMENTS</text>
<text x="346" y="1569" class="u">30.315</text>
<text x="346" y="1583">ELIGIBILITY</text>
<text x="346" y="1596">35.917-3(b)</text>
<text x="346" y="1608">35.920-1</text>
<text x="513" y="1557" class="u">ADDITIONAL REQUIREMENTS</text>
<text x="513" y="1570">35.925-5</text>
<text x="513" y="1584">ⓐ NON-FED COSTS</text>
<text x="513" y="1597">ⓑ APPLICANT CAPABILITY</text>
<text x="513" y="1611">35.927-4</text>
<text x="513" y="1621">SEWER USE ORDINANCE</text>
</g>

<!-- Legend -->
<g id="legend">
<text x="964" y="1593" style="font-family:'Liberation Sans',Arial,sans-serif;font-weight:bold;font-size:56px;fill:#111" textLength="215" lengthAdjust="spacingAndGlyphs">legend:</text>
<rect x="953" y="1606" width="231" height="4" fill="#111"/>
<rect class="n" x="970" y="1637" width="120" height="41" rx="18"/>
<polygon class="n" points="1217,1637 1328,1637 1306,1678 1195,1678"/>
<polygon class="n" points="1433,1657.5 1448,1637 1543,1637 1558,1657.5 1543,1678 1448,1678"/>
<rect class="n" x="1672" y="1637" width="119" height="41"/>
<path class="n" d="M1927,1658.5 C1937.4,1641.8 1953.1,1637 1970.5,1637 C1987.9,1637 2003.6,1641.8 2014,1658.5 C2003.6,1675.2 1987.9,1680 1970.5,1680 C1953.1,1680 1937.4,1675.2 1927,1658.5Z"/>
<text class="lg" x="964" y="1713" textLength="128" lengthAdjust="spacingAndGlyphs">state/epa</text>
<text class="lg" x="1192" y="1713" textLength="111" lengthAdjust="spacingAndGlyphs">applicant</text>
<text class="lg" x="1450" y="1713" textLength="103" lengthAdjust="spacingAndGlyphs">decision</text>
<text class="lg" x="1681" y="1713" textLength="100" lengthAdjust="spacingAndGlyphs">function</text>
<text class="lg" x="1938" y="1713" textLength="67" lengthAdjust="spacingAndGlyphs">other</text>
</g>
<text x="2523" y="1714" style="font-family:'Liberation Sans',Arial,sans-serif;font-size:22px;fill:#111" textLength="44" lengthAdjust="spacingAndGlyphs">B-2</text>

<g id="folds" opacity="0.7">
<line class="fold" x1="1333" y1="0" x2="1333" y2="1720"/>
<line class="fold" x1="2172" y1="0" x2="2172" y2="1720"/>
</g>
</svg>
